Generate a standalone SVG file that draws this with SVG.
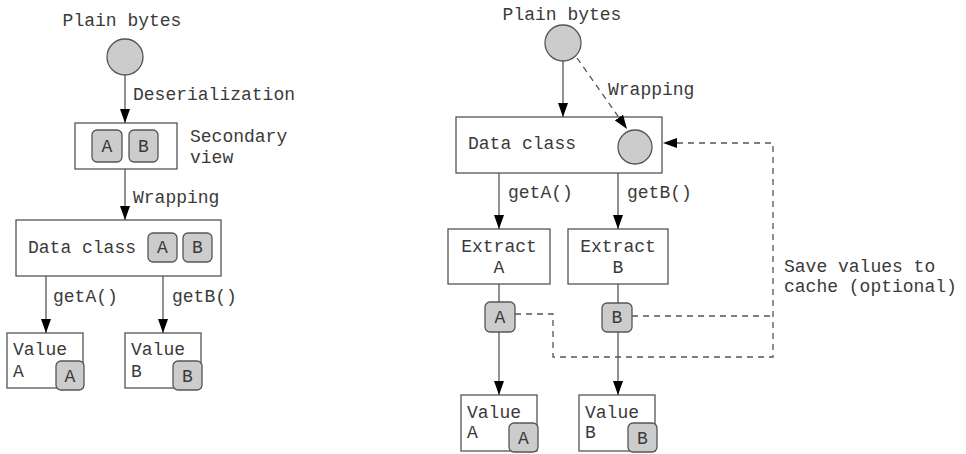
<svg xmlns="http://www.w3.org/2000/svg" width="966" height="454" viewBox="0 0 966 454">
<style>
text{font-family:"Liberation Mono","Courier New",monospace;font-size:18px;fill:#3a3a3a}
.box{fill:#fff;stroke:#555;stroke-width:1.3}
.chip{fill:#cccccc;stroke:#555;stroke-width:1.3}
.c{text-anchor:middle}
.ln{fill:none;stroke:#555;stroke-width:1.3}
.dash{fill:none;stroke:#555;stroke-width:1.3;stroke-dasharray:6 5}
</style>
<defs>
<marker id="ah" markerWidth="14" markerHeight="10" refX="14" refY="5" orient="auto" markerUnits="userSpaceOnUse">
<path d="M0,0 L14,5 L0,10 z" fill="#000"/>
</marker>
</defs>
<rect width="966" height="454" fill="#fff"/>

<g id="plain-bytes-left">
<text class="c" x="122" y="26">Plain bytes</text>
<circle class="chip" cx="125" cy="57" r="18"/>
</g>

<g id="secondary-view">
<rect class="box" x="75" y="123" width="102" height="46"/>
<rect class="chip" x="92" y="130" width="30" height="32" rx="5"/>
<text class="c" x="107" y="152">A</text>
<rect class="chip" x="129" y="130" width="29" height="32" rx="5"/>
<text class="c" x="143.5" y="152">B</text>
<text x="190" y="142">Secondary</text>
<text x="190" y="163">view</text>
</g>

<g id="data-class-left">
<rect class="box" x="16" y="220" width="205" height="56"/>
<text x="28" y="253">Data class</text>
<rect class="chip" x="148" y="233" width="29" height="29" rx="5"/>
<text class="c" x="162.5" y="253">A</text>
<rect class="chip" x="183" y="233" width="29" height="29" rx="5"/>
<text class="c" x="197.5" y="253">B</text>
</g>

<g id="value-a-left">
<rect class="box" x="7" y="333" width="76" height="55"/>
<text x="13" y="355">Value</text>
<text x="13" y="377">A</text>
<rect class="chip" x="56" y="361" width="28" height="29" rx="5"/>
<text class="c" x="70" y="382">A</text>
</g>

<g id="value-b-left">
<rect class="box" x="125" y="333" width="76" height="55"/>
<text x="131" y="355">Value</text>
<text x="131" y="377">B</text>
<rect class="chip" x="173" y="361" width="29" height="29" rx="5"/>
<text class="c" x="187.5" y="382">B</text>
</g>

<g id="plain-bytes-right">
<text class="c" x="562" y="20">Plain bytes</text>
<circle class="chip" cx="563" cy="43" r="18"/>
</g>

<g id="data-class-right">
<rect class="box" x="456" y="117" width="206" height="56"/>
<text x="468" y="149">Data class</text>
<circle class="chip" cx="635" cy="147" r="17"/>
</g>

<g id="extract-a">
<rect class="box" x="448" y="229" width="102" height="55"/>
<text class="c" x="499" y="252">Extract</text>
<text class="c" x="499" y="273">A</text>
</g>

<g id="extract-b">
<rect class="box" x="568" y="229" width="100" height="55"/>
<text class="c" x="618" y="252">Extract</text>
<text class="c" x="618" y="273">B</text>
</g>

<g id="chip-a">
<rect class="chip" x="485" y="302" width="30" height="30" rx="5"/>
<text class="c" x="500" y="323">A</text>
</g>

<g id="chip-b">
<rect class="chip" x="602" y="303" width="30" height="29" rx="5"/>
<text class="c" x="617" y="323">B</text>
</g>

<g id="value-a-right">
<rect class="box" x="461" y="395" width="76" height="56"/>
<text x="467" y="418">Value</text>
<text x="467" y="438">A</text>
<rect class="chip" x="509" y="423" width="29" height="29" rx="5"/>
<text class="c" x="523.5" y="444">A</text>
</g>

<g id="value-b-right">
<rect class="box" x="579" y="395" width="76" height="56"/>
<text x="585" y="418">Value</text>
<text x="585" y="438">B</text>
<rect class="chip" x="628" y="423" width="29" height="29" rx="5"/>
<text class="c" x="642.5" y="444">B</text>
</g>

<g id="connectors">
<line class="ln" x1="125" y1="75" x2="125" y2="123" marker-end="url(#ah)"/>
<line class="ln" x1="125" y1="169" x2="125" y2="220" marker-end="url(#ah)"/>
<line class="ln" x1="46" y1="276" x2="46" y2="333" marker-end="url(#ah)"/>
<line class="ln" x1="163" y1="276" x2="163" y2="333" marker-end="url(#ah)"/>
<line class="ln" x1="563" y1="61" x2="563" y2="117" marker-end="url(#ah)"/>
<line class="dash" x1="577" y1="58" x2="627" y2="129" marker-end="url(#ah)"/>
<line class="ln" x1="499" y1="173" x2="499" y2="229" marker-end="url(#ah)"/>
<line class="ln" x1="618" y1="173" x2="618" y2="229" marker-end="url(#ah)"/>
<line class="ln" x1="499" y1="284" x2="499" y2="302"/>
<line class="ln" x1="618" y1="284" x2="618" y2="303"/>
<line class="ln" x1="499" y1="332" x2="499" y2="395" marker-end="url(#ah)"/>
<line class="ln" x1="618" y1="332" x2="618" y2="395" marker-end="url(#ah)"/>
<polyline class="dash" points="515,314 553,314 553,357 773,357 773,143 663,143" marker-end="url(#ah)"/>
<line class="dash" x1="632" y1="316" x2="773" y2="316"/>
<text x="133" y="100">Deserialization</text>
<text x="133" y="203">Wrapping</text>
<text x="53" y="302">getA()</text>
<text x="172" y="302">getB()</text>
<text x="608" y="95">Wrapping</text>
<text x="508" y="198">getA()</text>
<text x="627" y="198">getB()</text>
<text x="784" y="272">Save values to</text>
<text x="784" y="292">cache (optional)</text>
</g>
</svg>
